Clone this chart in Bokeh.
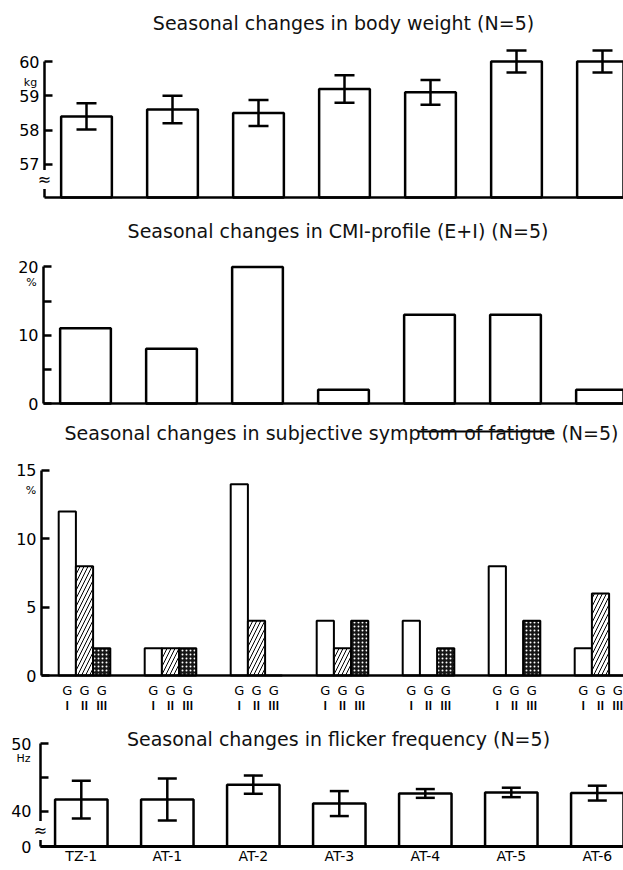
from bokeh.plotting import figure
from bokeh.models import (Range1d, FixedTicker, Label, Whisker, TeeHead,
                          ColumnDataSource, LinearAxis)
from bokeh.layouts import column
from bokeh.embed import file_html
from bokeh.resources import INLINE

# ---------------- data ----------------
stations = ["TZ-1", "AT-1", "AT-2", "AT-3", "AT-4", "AT-5", "AT-6"]

weight_mean = [58.4, 58.6, 58.5, 59.2, 59.1, 60.0, 60.0]
weight_err = [0.38, 0.40, 0.38, 0.40, 0.36, 0.32, 0.32]

cmi_pct = [11, 8, 20, 2, 13, 13, 2]

fatigue_g1 = [12, 2, 14, 4, 4, 8, 2]
fatigue_g2 = [8, 2, 4, 2, 0, 0, 6]
fatigue_g3 = [2, 2, 0, 4, 2, 4, 0]
group_names = ["G", "G", "G"]
group_numerals = ["Ⅰ", "Ⅱ", "Ⅲ"]

flicker_mean = [41.7, 41.7, 43.9, 41.1, 42.6, 42.75, 42.65]
flicker_err = [2.8, 3.1, 1.35, 1.85, 0.65, 0.7, 1.1]

titles = [
    "Seasonal changes in body weight (N=5)",
    "Seasonal changes in CMI-profile (E+I) (N=5)",
    "Seasonal changes in subjective symptom of fatigue (N=5)",
    "Seasonal changes in flicker frequency (N=5)",
]

# ---------------- layout helpers ----------------
FONT = "DejaVu Sans"
PAGE_W = 623
STEP = 86.0  # px between category centres
LW = 2.5


def make_fig(axis_px, c0, top_px, base_px, fig_bottom,
             anchor_val, anchor_px, scale):
    """Figure whose frame fills the whole canvas; axes are pinned inside."""
    xs = (0 - c0) / STEP
    xe = (PAGE_W - c0) / STEP
    ys = anchor_val - (fig_bottom - anchor_px) / scale
    ye = anchor_val + (anchor_px - top_px) / scale
    p = figure(frame_width=PAGE_W, frame_height=fig_bottom - top_px,
               min_border_left=0, min_border_right=0,
               min_border_top=0, min_border_bottom=0,
               x_range=Range1d(xs, xe), y_range=Range1d(ys, ye),
               output_backend="svg", toolbar_location=None)
    p.xgrid.visible = False
    p.ygrid.visible = False
    p.outline_line_color = None
    p.background_fill_color = "white"
    p.border_fill_color = "white"

    def px2x(px):
        return (px - c0) / STEP

    def px2y(py):
        return anchor_val + (anchor_px - py) / scale

    base = px2y(base_px)
    p.yaxis[0].fixed_location = px2x(axis_px)
    p.xaxis[0].fixed_location = base
    p.xaxis[0].bounds = (px2x(axis_px), xe)
    return p, px2x, px2y, base


def style_y(ax, ticks, overrides=None, bounds=None, standoff=5, size="16px"):
    ax.ticker = FixedTicker(ticks=ticks)
    if overrides:
        ax.major_label_overrides = overrides
    if bounds:
        ax.bounds = bounds
    ax.axis_line_width = LW
    ax.axis_line_color = "black"
    ax.major_tick_line_width = LW
    ax.major_tick_line_color = "black"
    ax.major_tick_in = 8
    ax.major_tick_out = 0
    ax.minor_tick_line_color = None
    ax.major_label_standoff = standoff
    ax.major_label_text_font = FONT
    ax.major_label_text_font_size = size
    ax.major_label_text_color = "black"


def style_x(ax, ticks, overrides=None, standoff=2, size="14px",
            font=FONT, line=True, style="normal"):
    ax.ticker = FixedTicker(ticks=ticks)
    if overrides:
        ax.major_label_overrides = overrides
    if line:
        ax.axis_line_width = LW
        ax.axis_line_color = "black"
    else:
        ax.axis_line_color = None
    ax.major_tick_line_color = None
    ax.minor_tick_line_color = None
    ax.major_tick_out = 0
    ax.major_tick_in = 0
    ax.minor_tick_out = 0
    ax.major_label_standoff = standoff
    ax.major_label_text_font = font
    ax.major_label_text_font_size = size
    ax.major_label_text_font_style = style
    ax.major_label_text_color = "black"


def add_text(p, text, x, y, size="10px", bg=None, color="black"):
    p.add_layout(Label(x=x, y=y, text=text, text_align="center",
                       text_baseline="middle", text_font=FONT,
                       text_font_size=size, text_color=color,
                       background_fill_color=bg))


TITLE_SIZE = "19px"
idx = list(range(len(stations)))

# ---------------- panel 1: body weight ----------------
p1, x1, y1, base1 = make_fig(44, 86, 0, 197, 212, 60, 61, 34.3)
src1 = ColumnDataSource(dict(
    x=idx, top=weight_mean,
    upper=[m + e for m, e in zip(weight_mean, weight_err)],
    lower=[m - e for m, e in zip(weight_mean, weight_err)]))
p1.vbar(x="x", top="top", bottom=base1, width=0.59, source=src1,
        fill_color="white", line_color="black", line_width=LW)
p1.add_layout(Whisker(source=src1, base="x", upper="upper", lower="lower",
                      line_width=LW, line_color="black", level="overlay",
                      upper_head=TeeHead(size=20, line_width=LW),
                      lower_head=TeeHead(size=20, line_width=LW)))
style_y(p1.yaxis[0], [57, 58, 59, 60], bounds=(base1, 60))
style_x(p1.xaxis[0], [])
add_text(p1, titles[0], x1(343), y1(22), size=TITLE_SIZE, color="#111111")
add_text(p1, "kg", x1(30), y1(82), size="11px")
add_text(p1, "≈", x1(44), y1(179), size="16px", bg="white")

# ---------------- panel 2: CMI ----------------
p2, x2, y2, base2 = make_fig(43, 85, 212, 403, 416, 0, 403, 6.83)
src2 = ColumnDataSource(dict(x=idx, top=cmi_pct))
p2.vbar(x="x", top="top", bottom=base2, width=0.59, source=src2,
        fill_color="white", line_color="black", line_width=LW)
style_y(p2.yaxis[0], [0, 5, 10, 15, 20], overrides={5: "", 15: ""},
        bounds=(0, 20))
style_x(p2.xaxis[0], [])
add_text(p2, titles[1], x2(337.5), y2(230), size=TITLE_SIZE, color="#111111")
add_text(p2, "%", x2(31), y2(282), size="11px")

# ---------------- panel 3: fatigue ----------------
p3, x3, y3, base3 = make_fig(41, 84, 416, 675, 714, 0, 675, 13.667)
SUB = 0.2
src3a = ColumnDataSource(dict(x=[i - SUB for i in idx], top=fatigue_g1))
src3b = ColumnDataSource(dict(x=[i for i in idx], top=fatigue_g2))
src3c = ColumnDataSource(dict(x=[i + SUB for i in idx], top=fatigue_g3))
p3.vbar(x="x", top="top", bottom=base3, width=SUB, source=src3a,
        fill_color="white", line_color="black", line_width=2)
p3.vbar(x="x", top="top", bottom=base3, width=SUB, source=src3b,
        fill_color="white", line_color="black", line_width=2,
        hatch_pattern="/", hatch_color="black", hatch_weight=1,
        hatch_scale=8)
p3.vbar(x="x", top="top", bottom=base3, width=SUB, source=src3c,
        fill_color="#161616", line_color="black", line_width=2,
        hatch_pattern=".", hatch_color="white", hatch_weight=1,
        hatch_scale=4)
style_y(p3.yaxis[0], [0, 5, 10, 15], bounds=(0, 15))
sub_ticks = [i + d for i in idx for d in (-SUB, 0.0, SUB)]
g_over = {t: group_names[k % 3] for k, t in enumerate(sub_ticks)}
n_over = {t: group_numerals[k % 3] for k, t in enumerate(sub_ticks)}
style_x(p3.xaxis[0], sub_ticks, overrides=g_over, standoff=7, size="13px")
ax3b = LinearAxis(fixed_location=base3)
style_x(ax3b, sub_ticks, overrides=n_over, standoff=21, size="11px",
        font="Noto Sans CJK JP", line=False, style="bold")
p3.add_layout(ax3b, "below")
add_text(p3, titles[2], x3(341), y3(432), size=TITLE_SIZE, color="#111111")
add_text(p3, "%", x3(30.5), y3(490), size="11px")
p3.segment(x0=[x3(417)], y0=[y3(431)], x1=[x3(553)], y1=[y3(431)],
           line_color="black", line_width=2)

# ---------------- panel 4: flicker ----------------
p4, x4, y4, base4 = make_fig(40, 80.8, 714, 846, 870, 40, 810.5, 6.75)
src4 = ColumnDataSource(dict(
    x=idx, top=flicker_mean,
    upper=[m + e for m, e in zip(flicker_mean, flicker_err)],
    lower=[m - e for m, e in zip(flicker_mean, flicker_err)]))
p4.vbar(x="x", top="top", bottom=base4, width=0.61, source=src4,
        fill_color="white", line_color="black", line_width=LW)
p4.add_layout(Whisker(source=src4, base="x", upper="upper", lower="lower",
                      line_width=LW, line_color="black", level="overlay",
                      upper_head=TeeHead(size=19, line_width=LW),
                      lower_head=TeeHead(size=19, line_width=LW)))
style_y(p4.yaxis[0], [base4, 40, 45, 50], overrides={base4: "0", 45: ""},
        bounds=(base4, 50), standoff=9)
style_x(p4.xaxis[0], idx, overrides={i: s for i, s in zip(idx, stations)},
        standoff=1, size="14px")
p4.xaxis[0].axis_line_width = 3
add_text(p4, titles[3], x4(338), y4(738), size=TITLE_SIZE, color="#111111")
add_text(p4, "Hz", x4(23), y4(758), size="11px")
add_text(p4, "≈", x4(40), y4(830), size="16px", bg="white")

layout = column(p1, p2, p3, p4, spacing=0)
open("out.html", "w").write(file_html(layout, INLINE))
